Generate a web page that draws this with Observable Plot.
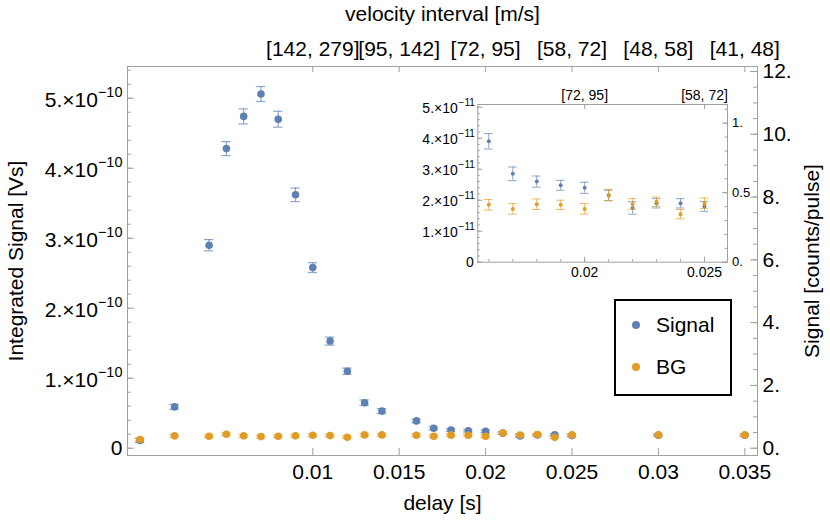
<!DOCTYPE html>
<html><head><meta charset="utf-8">
<script src="https://cdn.jsdelivr.net/npm/d3@7"></script>
<script src="https://cdn.jsdelivr.net/npm/@observablehq/plot@0.6"></script>
<style>
body{margin:0;background:#fff;}
#wrap{position:relative;width:830px;height:524px;font-family:"Liberation Sans",Arial,sans-serif;}
#wrap svg{position:absolute;left:0;top:0;overflow:visible;}
#legend{position:absolute;border:2px solid #000;background:#fff;box-sizing:border-box;font-size:21px;}
#legend .row{position:absolute;left:0;display:flex;align-items:center;white-space:nowrap;}
</style></head><body><div id="wrap"></div>
<script>
// ---------------- data (values in units of 1e-10 Vs) ----------------
const delay = [0,0.002,0.004,0.005,0.006,0.007,0.008,0.009,0.010,0.011,0.012,0.013,0.014,0.016,0.017,0.018,0.019,0.020,0.021,0.022,0.023,0.024,0.025,0.030,0.035];
const signal    = [0.11,0.59,2.9,4.28,4.74,5.06,4.70,3.62,2.58,1.53,1.10,0.65,0.53,0.39,0.285,0.26,0.248,0.24,0.215,0.175,0.19,0.19,0.18,0.185,0.185];
const signalErr = [0.03,0.035,0.08,0.10,0.107,0.107,0.114,0.097,0.07,0.057,0.045,0.04,0.035,0.025,0.022,0.018,0.016,0.018,0.017,0.02,0.015,0.015,0.016,0.016,0.016];
const bg        = [0.124,0.177,0.171,0.20,0.177,0.166,0.171,0.177,0.186,0.18,0.157,0.19,0.19,0.185,0.172,0.187,0.185,0.172,0.217,0.188,0.195,0.155,0.19,0.19,0.19];
const bgErr     = [0.02,0.018,0.018,0.018,0.018,0.018,0.018,0.018,0.018,0.018,0.018,0.018,0.018,0.017,0.017,0.017,0.015,0.017,0.018,0.017,0.015,0.015,0.017,0.016,0.016];
const unit = 1e-10;
const seriesNames = ["Signal","BG"];
const seriesColors = ["#5E81B5","#E19C24"];

const xTicks = [0.01,0.015,0.02,0.025,0.03,0.035];
const xTickLabels = ["0.01","0.015","0.02","0.025","0.03","0.035"];
const velocityLabels = ["[142, 279]","[95, 142]","[72, 95]","[58, 72]","[48, 58]","[41, 48]"];
const leftTicks = [1,2,3,4,5];           // x 1e-10
const leftMantissa = ["1.×10","2.×10","3.×10","4.×10","5.×10"];
const leftExponent = "−10";
const rightTicks = [0,2,4,6,8,10,12];
const rightTickLabels = ["0.","2.","4.","6.","8.","10.","12."];
const countsPerUnit = 2.23;              // counts/pulse per 1e-10 Vs

const insetXTicks = [0.02,0.025];
const insetXTickLabels = ["0.02","0.025"];
const insetTopLabels = ["[72, 95]","[58, 72]"];
const insetLeftTicks = [1,2,3,4,5];     // x 1e-11
const insetLeftMantissa = ["1.×10","2.×10","3.×10","4.×10","5.×10"];
const insetLeftExponent = "−11";
const insetRightTicks = [0,0.5,1];
const insetRightTickLabels = ["0.","0.5","1."];

// ---------------- table ----------------
const rows = [];
seriesNames.forEach((s,k)=>{
  const vals = k===0?signal:bg, errs = k===0?signalErr:bgErr;
  delay.forEach((d,i)=>rows.push({s, d, v: vals[i]*unit, e: errs[i]*unit}));
});

const W=830,H=524;
const FONT='"Liberation Sans",Arial,sans-serif';
const GRAY="#a0a0a0";
const wrap=document.getElementById("wrap");

// ---------------- main plot ----------------
const mL=127,mR=73,mT=66,mB=69;
const pw=W-mL-mR, ph=H-mT-mB;
const xDom=[-0.000723,0.035735];
const yDom=[-0.104e-10,5.453e-10];
const pxPerX=pw/(xDom[1]-xDom[0]);
const cap=4.7/pxPerX;
const minorLeft=d3.range(0,5.5,0.2).map(v=>v*unit).filter(v=>v<=yDom[1]);
const minorRight=d3.range(0,12.2,0.5).map(c=>c/countsPerUnit*unit);
const colorOf=s=>seriesColors[seriesNames.indexOf(s)];

const main=Plot.plot({
  width:W,height:H,marginLeft:mL,marginRight:mR,marginTop:mT,marginBottom:mB,
  style:{fontFamily:FONT,fontSize:"21px",background:"transparent",overflow:"visible"},
  x:{domain:xDom,axis:null},
  y:{domain:yDom,axis:null},
  marks:[
    Plot.frame({stroke:GRAY}),
    // ticks (inward)
    Plot.tickX(xTicks,{x:d=>d,stroke:GRAY,insetTop:ph-7}),
    Plot.tickX(xTicks,{x:d=>d,stroke:GRAY,insetBottom:ph-6}),
    Plot.tickY(minorLeft,{y:d=>d,stroke:GRAY,insetRight:pw-4}),
    Plot.tickY([0,...leftTicks].map(v=>v*unit),{y:d=>d,stroke:GRAY,insetRight:pw-7}),
    Plot.tickY(minorRight,{y:d=>d,stroke:GRAY,insetLeft:pw-4}),
    Plot.tickY(rightTicks.map(c=>c/countsPerUnit*unit),{y:d=>d,stroke:GRAY,insetLeft:pw-7}),
    // tick labels
    Plot.text(xTicks,{x:d=>d,frameAnchor:"bottom",dy:17,lineAnchor:"middle",text:(d,i)=>xTickLabels[i],fontSize:21,fill:"#000"}),
    Plot.text(xTicks,{x:d=>d,frameAnchor:"top",dy:-17,lineAnchor:"middle",text:(d,i)=>velocityLabels[i],fontSize:21,fill:"#000"}),
    Plot.text([0],{y:d=>d,frameAnchor:"left",dx:-5,textAnchor:"end",lineAnchor:"middle",text:()=>"0",fontSize:21,fill:"#000"}),
    Plot.text(leftTicks,{y:d=>d*unit,frameAnchor:"left",dx:-29.6,dy:2,textAnchor:"end",lineAnchor:"middle",text:(d,i)=>leftMantissa[i],fontSize:21,fill:"#000"}),
    Plot.text(leftTicks,{y:d=>d*unit,frameAnchor:"left",dx:-5,dy:-6,textAnchor:"end",lineAnchor:"middle",text:()=>leftExponent,fontSize:14.5,fill:"#000"}),
    Plot.text(rightTicks,{y:c=>c/countsPerUnit*unit,frameAnchor:"right",dx:5,textAnchor:"start",lineAnchor:"middle",text:(d,i)=>rightTickLabels[i],fontSize:21,fill:"#000"}),
    // axis titles
    Plot.text(["delay [s]"],{frameAnchor:"bottom",dy:48,lineAnchor:"middle",text:d=>d,fontSize:21,fill:"#000"}),
    Plot.text(["velocity interval [m/s]"],{frameAnchor:"top",dy:-52,lineAnchor:"middle",text:d=>d,fontSize:21,fill:"#000"}),
    Plot.text(["Integrated Signal [Vs]"],{frameAnchor:"left",dx:-111.5,rotate:-90,textAnchor:"middle",lineAnchor:"middle",text:d=>d,fontSize:21,fill:"#000"}),
    Plot.text(["Signal [counts/pulse]"],{frameAnchor:"right",dx:55,rotate:-90,textAnchor:"middle",lineAnchor:"middle",text:d=>d,fontSize:21,fill:"#000"}),
    // data
    ...seriesNames.flatMap(s=>{
      const r=rows.filter(o=>o.s===s), c=colorOf(s);
      return [
        Plot.ruleX(r,{x:"d",y1:o=>o.v-o.e,y2:o=>o.v+o.e,stroke:c,strokeOpacity:0.7,strokeWidth:1.2}),
        Plot.ruleY(r,{y:o=>o.v+o.e,x1:o=>o.d-cap,x2:o=>o.d+cap,stroke:c,strokeOpacity:0.7,strokeWidth:1.2}),
        Plot.ruleY(r,{y:o=>o.v-o.e,x1:o=>o.d-cap,x2:o=>o.d+cap,stroke:c,strokeOpacity:0.7,strokeWidth:1.2}),
        Plot.dot(r,{x:"d",y:"v",r:3.8,fill:c,stroke:null})
      ];
    })
  ]
});
wrap.appendChild(main);

// ---------------- inset ----------------
const iL=477.3,iR=727,iT=104,iB=261.7;
const ipw=iR-iL, iph=iB-iT;
const ixDom=[0.01554,0.02596];
const iyDom=[0,5.087e-11];
const iunit=1e-11;
const ipxPerX=ipw/(ixDom[1]-ixDom[0]);
const icap=4.3/ipxPerX;
const irows=rows.filter(o=>o.d>ixDom[0]&&o.d<ixDom[1]);
const iMinorLeft=d3.range(0,5.05,0.2).map(v=>v*iunit);
const iMinorRight=d3.range(0,1.15,0.1).map(c=>c/countsPerUnit*unit);
const iMinorX=d3.range(0.016,0.0259,0.001);

const inset=Plot.plot({
  width:W,height:H,marginLeft:iL,marginRight:W-iR,marginTop:iT,marginBottom:H-iB,
  style:{fontFamily:FONT,fontSize:"14px",background:"transparent",overflow:"visible"},
  x:{domain:ixDom,axis:null},
  y:{domain:iyDom,axis:null},
  marks:[
    Plot.frame({stroke:GRAY}),
    Plot.tickX(iMinorX,{x:d=>d,stroke:GRAY,insetTop:iph-2.5}),
    Plot.tickX(insetXTicks,{x:d=>d,stroke:GRAY,insetTop:iph-5}),
    Plot.tickX(insetXTicks,{x:d=>d,stroke:GRAY,insetBottom:iph-5}),
    Plot.tickY(iMinorLeft,{y:d=>d,stroke:GRAY,insetRight:ipw-2.5}),
    Plot.tickY([0,...insetLeftTicks].map(v=>v*iunit),{y:d=>d,stroke:GRAY,insetRight:ipw-5}),
    Plot.tickY(iMinorRight,{y:d=>d,stroke:GRAY,insetLeft:ipw-2.5}),
    Plot.tickY(insetRightTicks.map(c=>c/countsPerUnit*unit),{y:d=>d,stroke:GRAY,insetLeft:ipw-5}),
    Plot.text(insetXTicks,{x:d=>d,frameAnchor:"bottom",dy:10,lineAnchor:"middle",text:(d,i)=>insetXTickLabels[i],fontSize:14,fill:"#000"}),
    Plot.text(insetXTicks,{x:d=>d,frameAnchor:"top",dy:-9,lineAnchor:"middle",text:(d,i)=>insetTopLabels[i],fontSize:14,fill:"#000"}),
    Plot.text([0],{y:d=>d,frameAnchor:"left",dx:-4,textAnchor:"end",lineAnchor:"middle",text:()=>"0",fontSize:14,fill:"#000"}),
    Plot.text(insetLeftTicks,{y:d=>d*iunit,frameAnchor:"left",dx:-20,dy:1,textAnchor:"end",lineAnchor:"middle",text:(d,i)=>insetLeftMantissa[i],fontSize:14,fill:"#000"}),
    Plot.text(insetLeftTicks,{y:d=>d*iunit,frameAnchor:"left",dx:-3,dy:-4,textAnchor:"end",lineAnchor:"middle",text:()=>insetLeftExponent,fontSize:10,fill:"#000"}),
    Plot.text(insetRightTicks,{y:c=>c/countsPerUnit*unit,frameAnchor:"right",dx:4.6,textAnchor:"start",lineAnchor:"middle",text:(d,i)=>insetRightTickLabels[i],fontSize:13,fill:"#000"}),
    ...seriesNames.flatMap(s=>{
      const r=irows.filter(o=>o.s===s), c=colorOf(s);
      return [
        Plot.ruleX(r,{x:"d",y1:o=>o.v-o.e,y2:o=>o.v+o.e,stroke:c,strokeOpacity:0.7,strokeWidth:1}),
        Plot.ruleY(r,{y:o=>o.v+o.e,x1:o=>o.d-icap,x2:o=>o.d+icap,stroke:c,strokeOpacity:0.7,strokeWidth:1}),
        Plot.ruleY(r,{y:o=>o.v-o.e,x1:o=>o.d-icap,x2:o=>o.d+icap,stroke:c,strokeOpacity:0.7,strokeWidth:1}),
        Plot.dot(r,{x:"d",y:"v",r:2,fill:c,stroke:null})
      ];
    })
  ]
});
wrap.appendChild(inset);

// ---------------- legend ----------------
const lg=document.createElement("div");
lg.id="legend";
Object.assign(lg.style,{left:"614px",top:"299px",width:"118px",height:"97px"});
seriesNames.forEach((s,k)=>{
  const row=document.createElement("div");
  row.className="row";
  row.style.top=(k===0?10:52)+"px";
  row.style.left="14px";
  row.innerHTML=`<svg width="12" height="28" style="position:static;margin-right:14px"><circle cx="6" cy="14" r="4" fill="${seriesColors[k]}"/></svg><span>${s}</span>`;
  lg.appendChild(row);
});
wrap.appendChild(lg);
</script></body></html>
